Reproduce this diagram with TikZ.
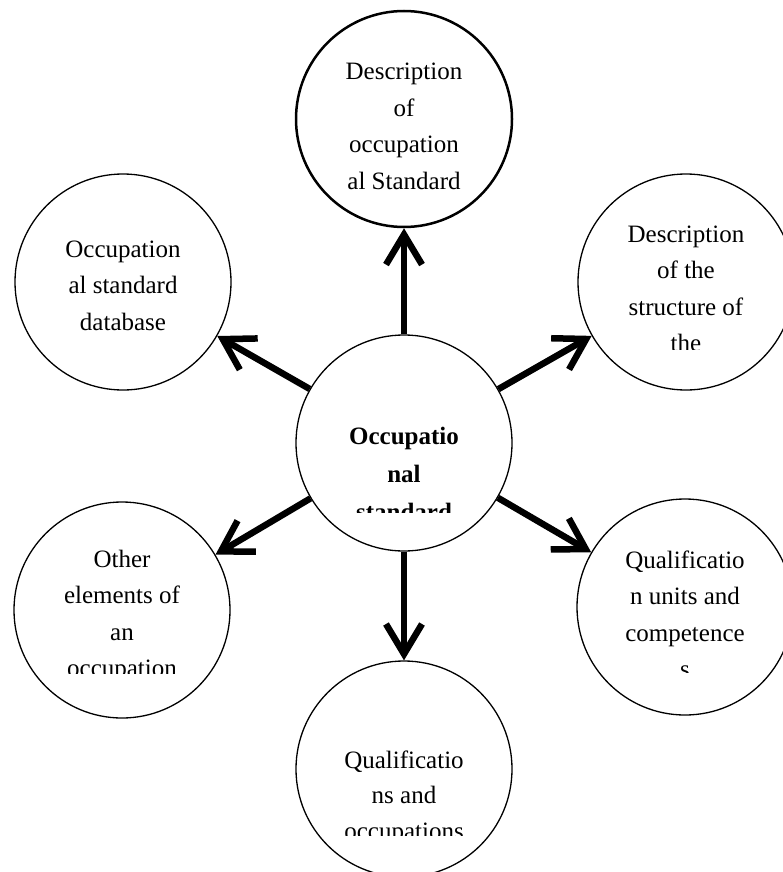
\documentclass[tikz,border=0pt]{standalone}
\usepackage{fontspec}
\setmainfont{Liberation Serif}
\usetikzlibrary{arrows.meta}

\tikzset{
  bubble/.style={draw=black, circle, minimum size=216pt, inner sep=0pt, line width=1.3pt},
  bubbletext/.style={align=center, anchor=base, inner sep=0pt, font=\fontsize{25}{36.5}\selectfont},
  spoke/.style={line width=6.5pt, -{Straight Barb[length=30pt, width=36pt, line cap=butt, line join=miter]}},
}

\begin{document}
\begin{tikzpicture}[x=1pt, y=-1pt]
  \useasboundingbox (0,0) rectangle (783,872);

  %% circles
  \node[bubble] (core) at (404,443) {};
  \node[bubble, line width=2.5pt] (descos) at (404,119) {};
  \node[bubble] (descstr) at (686,282) {};
  \node[bubble] (osdb) at (123,282) {};
  \node[bubble] (other) at (122,610) {};
  \node[bubble] (units) at (685,607) {};
  \node[bubble] (qualocc) at (404,769) {};

  %% texts, placed at the baseline of their last line and cut off at the bottom of their boxes
  \begin{scope}
    \clip (304,30) rectangle (504,191);
    \node[bubbletext] (descos-t) at (404,189) {Description\\of\\occupation\\al Standard};
  \end{scope}
  \begin{scope}
    \clip (304,380) rectangle (504,512);
    \node[bubbletext, font=\fontsize{25}{38}\selectfont\bfseries] (core-t) at (404,520) {Occupatio\\nal\\standard};
  \end{scope}
  \begin{scope}
    \clip (586,190) rectangle (783,349);
    \node[bubbletext] (descstr-t) at (686,351.5) {Description\\of the\\structure of\\the};
  \end{scope}
  \begin{scope}
    \clip (23,190) rectangle (223,352);
    \node[bubbletext] (osdb-t) at (123,330) {Occupation\\al standard\\database};
  \end{scope}
  \begin{scope}
    \clip (22,520) rectangle (222,673);
    \node[bubbletext] (other-t) at (122,676.5) {Other\\elements of\\an\\occupation};
  \end{scope}
  \begin{scope}
    \clip (585,520) rectangle (783,672);
    \node[bubbletext] (units-t) at (685,677.5) {Qualificatio\\n units and\\competence\\s};
  \end{scope}
  \begin{scope}
    \clip (304,700) rectangle (504,835);
    \node[bubbletext, font=\fontsize{25}{35.5}\selectfont] (qualocc-t) at (404,839) {Qualificatio\\ns and\\occupations};
  \end{scope}

  %% spokes
  \draw[spoke] (core) -- (descos);
  \draw[spoke] (core) -- (descstr);
  \draw[spoke] (core) -- (osdb);
  \draw[spoke] (core) -- (other);
  \draw[spoke] (core) -- (units);
  \draw[spoke] (core) -- (qualocc);
\end{tikzpicture}
\end{document}
